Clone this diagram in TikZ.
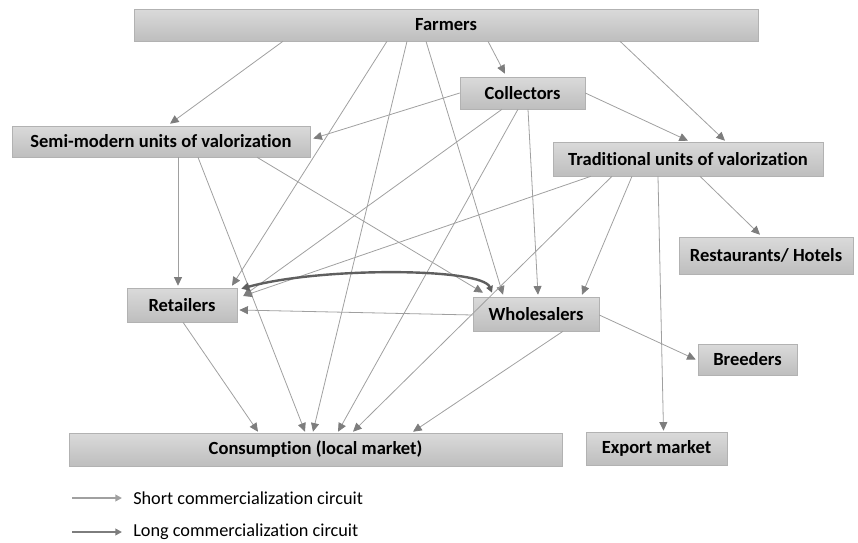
\documentclass[tikz,border=0pt]{standalone}
\usepackage{fontspec}
\setmainfont{Carlito}[Ligatures=NoCommon]
\usetikzlibrary{arrows.meta, calc, positioning}

\definecolor{boxtop}{RGB}{218,218,218}
\definecolor{boxbot}{RGB}{190,190,190}
\definecolor{boxline}{RGB}{178,178,178}
\definecolor{flowgray}{RGB}{160,160,160}
\definecolor{tipgray}{RGB}{125,125,125}
\definecolor{longgray}{RGB}{95,95,95}

\begin{document}
\begin{tikzpicture}[
  x=0.75pt, y=-0.75pt,
  font=\fontsize{13.7}{16}\selectfont,
  box/.style={draw=boxline, top color=boxtop, bottom color=boxbot, inner sep=0pt,
    font=\fontsize{13.9}{16}\selectfont\bfseries},
  flow/.style={draw=flowgray, line width=0.6pt,
    -{Triangle[length=6.5pt, width=6pt, color=tipgray]}},
  longflow/.style={draw=longgray, line width=1.8pt,
    {Triangle[length=6pt, width=6pt, color=longgray]}-{Triangle[length=5pt, width=5pt, color=longgray]}},
  legend/.style={line width=1.4pt, -{Triangle[length=5pt, width=5pt]}}]

  \useasboundingbox (0,0) rectangle (858,543);

  % actors
  \node[box, minimum width=468pt, minimum height=24pt](farmers) at (446,25) {Farmers};
  \node[box, minimum width=93.75pt, minimum height=24pt](collectors) at (522.5,93) {Collectors};
  \node[box, minimum width=223.5pt, minimum height=23.25pt](semi) at (161,141.5) {Semi-modern units of valorization};
  \node[box, minimum width=202.5pt, minimum height=25.5pt](trad) at (688,159) {Traditional units of valorization};
  \node[box, minimum width=130.5pt, minimum height=27.75pt](hotels) at (766,255.5) {Restaurants/ Hotels};
  \node[box, minimum width=82.5pt, minimum height=25.5pt](retail) at (182,305) {Retailers};
  \node[box, minimum width=94.5pt, minimum height=25.5pt](whole) at (536,314) {Wholesalers};
  \node[box, minimum width=74.25pt, minimum height=23.25pt](breed) at (747.5,359.5) {Breeders};
  \node[box, minimum width=105.75pt, minimum height=24.75pt](export) at (656.5,448.5) {Export market};
  \node[box, minimum width=369.75pt, minimum height=24.75pt](consum) at (315.5,449.5) {Consumption (local market)};

  % farmers
  \draw[flow] ($(farmers.south)+(-163,0)$) -- ($(semi.north)+(9,-2)$);
  \draw[flow] ($(farmers.south)+(-59,0)$) -- ($(retail.north)+(50,-2)$);
  \draw[flow] ($(farmers.south)+(-39,0)$) -- ($(consum.north)+(-2.5,-1)$);
  \draw[flow] ($(farmers.south)+(-20,0)$) -- ($(whole.north)+(-33,-2)$);
  \draw[flow] ($(farmers.south)+(42,0)$) -- ($(collectors.north)+(-17.5,-3)$);
  \draw[flow] ($(farmers.south)+(174,0)$) -- ($(trad.north)+(37,-1)$);

  % collectors
  \draw[flow] ($(collectors.west)+(0,0)$) -- ($(semi.east)+(3,-3)$);
  \draw[flow] ($(collectors.east)+(0,0)$) -- ($(trad.north)+(0,-1)$);
  \draw[flow] ($(collectors.south)+(-20.5,0)$) -- ($(retail.east)+(6,-9)$);
  \draw[flow] ($(collectors.south)+(-4.5,0)$) -- ($(consum.north)+(22.5,-1)$);
  \draw[flow] ($(collectors.south)+(5.5,0)$) -- ($(whole.north)+(2,-2)$);

  % semi-modern units
  \draw[flow] ($(semi.south)+(17,0)$) -- ($(retail.north)+(-4,-2)$);
  \draw[flow] ($(semi.south)+(37,0)$) -- ($(consum.north)+(-10.5,-1)$);
  \draw[flow] ($(semi.south)+(96,0)$) -- ($(whole.north)+(-53,-4)$);

  % traditional units
  \draw[flow] ($(trad.south)+(-97,0)$) -- ($(retail.east)+(6,-9)$);
  \draw[flow] ($(trad.south)+(-76,0)$) -- ($(consum.north)+(37.5,-1)$);
  \draw[flow] ($(trad.south)+(-56,0)$) -- ($(whole.north)+(46,-2)$);
  \draw[flow] ($(trad.south)+(-30,0)$) -- ($(export.north)+(7,-1)$);
  \draw[flow] ($(trad.south)+(12,0)$) -- ($(hotels.north)+(-6,-2)$);

  % wholesalers and retailers
  \draw[flow] ($(whole.west)+(0,1)$) -- ($(retail.east)+(2,5)$);
  \draw[flow] ($(whole.east)+(0,1)$) -- ($(breed.west)+(-2,0)$);
  \draw[flow] ($(whole.south)+(27,0)$) -- ($(consum.north)+(97.5,-1)$);
  \draw[flow] ($(retail.south)+(1,0)$) -- ($(consum.north)+(-57.5,-1)$);
  \draw[longflow] ($(retail.north east)+(4,1)$) .. controls +(80,-22) and +(-10,-25) .. ($(whole.north)+(-44,-4)$);

  % legend
  \node[anchor=west, inner sep=0pt](shortlbl) at (133,498) {Short commercialization circuit};
  \node[anchor=west, inner sep=0pt](longlbl) at (133,532) {Long commercialization circuit};
  \coordinate (s0) at (72,498);
  \coordinate (l0) at (72,532);
  \draw[legend, flowgray] (s0) -- ($(shortlbl.west)+(-11,0)$);
  \draw[legend, tipgray] (l0) -- ($(longlbl.west)+(-11,0)$);
\end{tikzpicture}
\end{document}
